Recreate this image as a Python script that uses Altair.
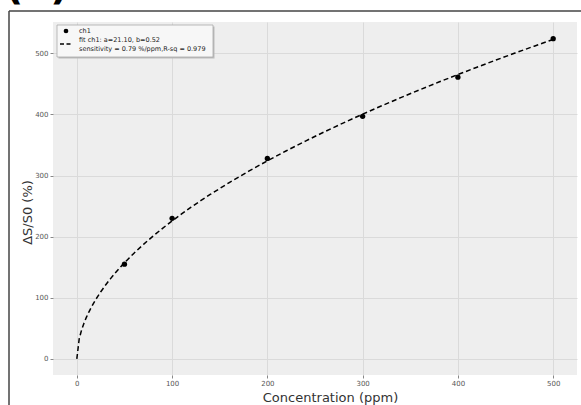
import altair as alt
import pandas as pd

# data
conc = [50, 100, 200, 300, 400, 500]
resp = [155, 230, 328, 397, 461, 524]

x_ticks = [0, 100, 200, 300, 400, 500]
y_ticks = [0, 100, 200, 300, 400, 500]

legend_point = "ch1"
legend_fit_1 = "fit ch1: a=21.10, b=0.52"
legend_fit_2 = "sensitivity = 0.79 %/ppm,R-sq = 0.979"

df = pd.DataFrame({"x": conc, "y": resp})
one = pd.DataFrame({"k": [0]})

FONT = "DejaVu Sans"

xs = alt.Scale(domain=[-25, 525], nice=False, zero=False)
ys = alt.Scale(domain=[-26.25, 551.25], nice=False, zero=False)

xax = alt.Axis(values=x_ticks, title="Concentration (ppm)", grid=True, gridColor="#DADADA",
               domain=False, tickSize=3, tickColor="#888888", labelFontSize=7, labelColor="#555555",
               labelPadding=1, titleFontSize=13, titleFont=FONT, titleColor="#333333",
               titleFontWeight="normal", titleX=277, titleY=26, titleBaseline="alphabetic",
               labelFont=FONT)
yax = alt.Axis(values=y_ticks, title="ΔS/S0 (%)", grid=True, gridColor="#DADADA",
               domain=False, tickSize=3, tickColor="#888888", labelFontSize=7, labelColor="#555555",
               labelPadding=2, titleFontSize=13, titleFont=FONT, titleColor="#333333",
               titleFontWeight="normal", titleX=-26, titleY=190, titleAngle=270,
               titleBaseline="middle", labelFont=FONT)

base = alt.Chart(df)

points = base.mark_circle(size=28, color="black", opacity=1).encode(
    x=alt.X("x:Q", scale=xs, axis=xax),
    y=alt.Y("y:Q", scale=ys, axis=yax),
)

fit = base.transform_regression("x", "y", method="pow", extent=[0, 500]).mark_line(
    color="black", strokeDash=[5, 3], strokeWidth=1.5
).encode(x=alt.X("x:Q", scale=xs), y=alt.Y("y:Q", scale=ys))

o = alt.Chart(one)
shadow = o.mark_rect(fill="#BBBBBB").encode(
    x=alt.value(5.5), x2=alt.value(161.5), y=alt.value(4.5), y2=alt.value(36.5))
box = o.mark_rect(fill="#F7F7F7", stroke="#AAAAAA", strokeWidth=0.8).encode(
    x=alt.value(4), x2=alt.value(160), y=alt.value(3), y2=alt.value(35))
ldot = o.mark_circle(size=22, color="black", opacity=1).encode(x=alt.value(13), y=alt.value(9))
lline = o.mark_rule(color="black", strokeDash=[4, 2.5], strokeWidth=1.5).encode(
    x=alt.value(7), x2=alt.value(20), y=alt.value(22))
t1 = o.mark_text(text=legend_point, align="left", baseline="middle", fontSize=6.5, font=FONT,
                 color="#222222").encode(x=alt.value(26), y=alt.value(9))
t2 = o.mark_text(text=legend_fit_1, align="left", baseline="middle", fontSize=6.5, font=FONT,
                 color="#222222").encode(x=alt.value(26), y=alt.value(18))
t3 = o.mark_text(text=legend_fit_2, align="left", baseline="middle", fontSize=6.5, font=FONT,
                 color="#222222").encode(x=alt.value(26), y=alt.value(27))

frame_top = o.mark_rule(color="#444444", strokeWidth=1.5).encode(
    x=alt.value(-44), x2=alt.value(540), y=alt.value(-11))
frame_left = o.mark_rule(color="#444444", strokeWidth=1.5).encode(
    x=alt.value(-44), y=alt.value(-11), y2=alt.value(400))
label_a = o.mark_text(text="(a)", align="left", baseline="alphabetic", fontSize=40, fontWeight="bold",
                      font=FONT, color="black").encode(x=alt.value(-48), y=alt.value(-23))

chart = alt.layer(
    points, fit, shadow, box, ldot, lline, t1, t2, t3, frame_top, frame_left, label_a
).properties(
    width=524, height=353,
    autosize=alt.AutoSizeParams(type="none"),
    padding={"left": 53, "top": 22, "right": 4, "bottom": 30},
    background="white",
).configure_view(fill="#EEEEEE", stroke=None)

chart.save("out.html", embed_options={"renderer": "svg", "actions": False})
